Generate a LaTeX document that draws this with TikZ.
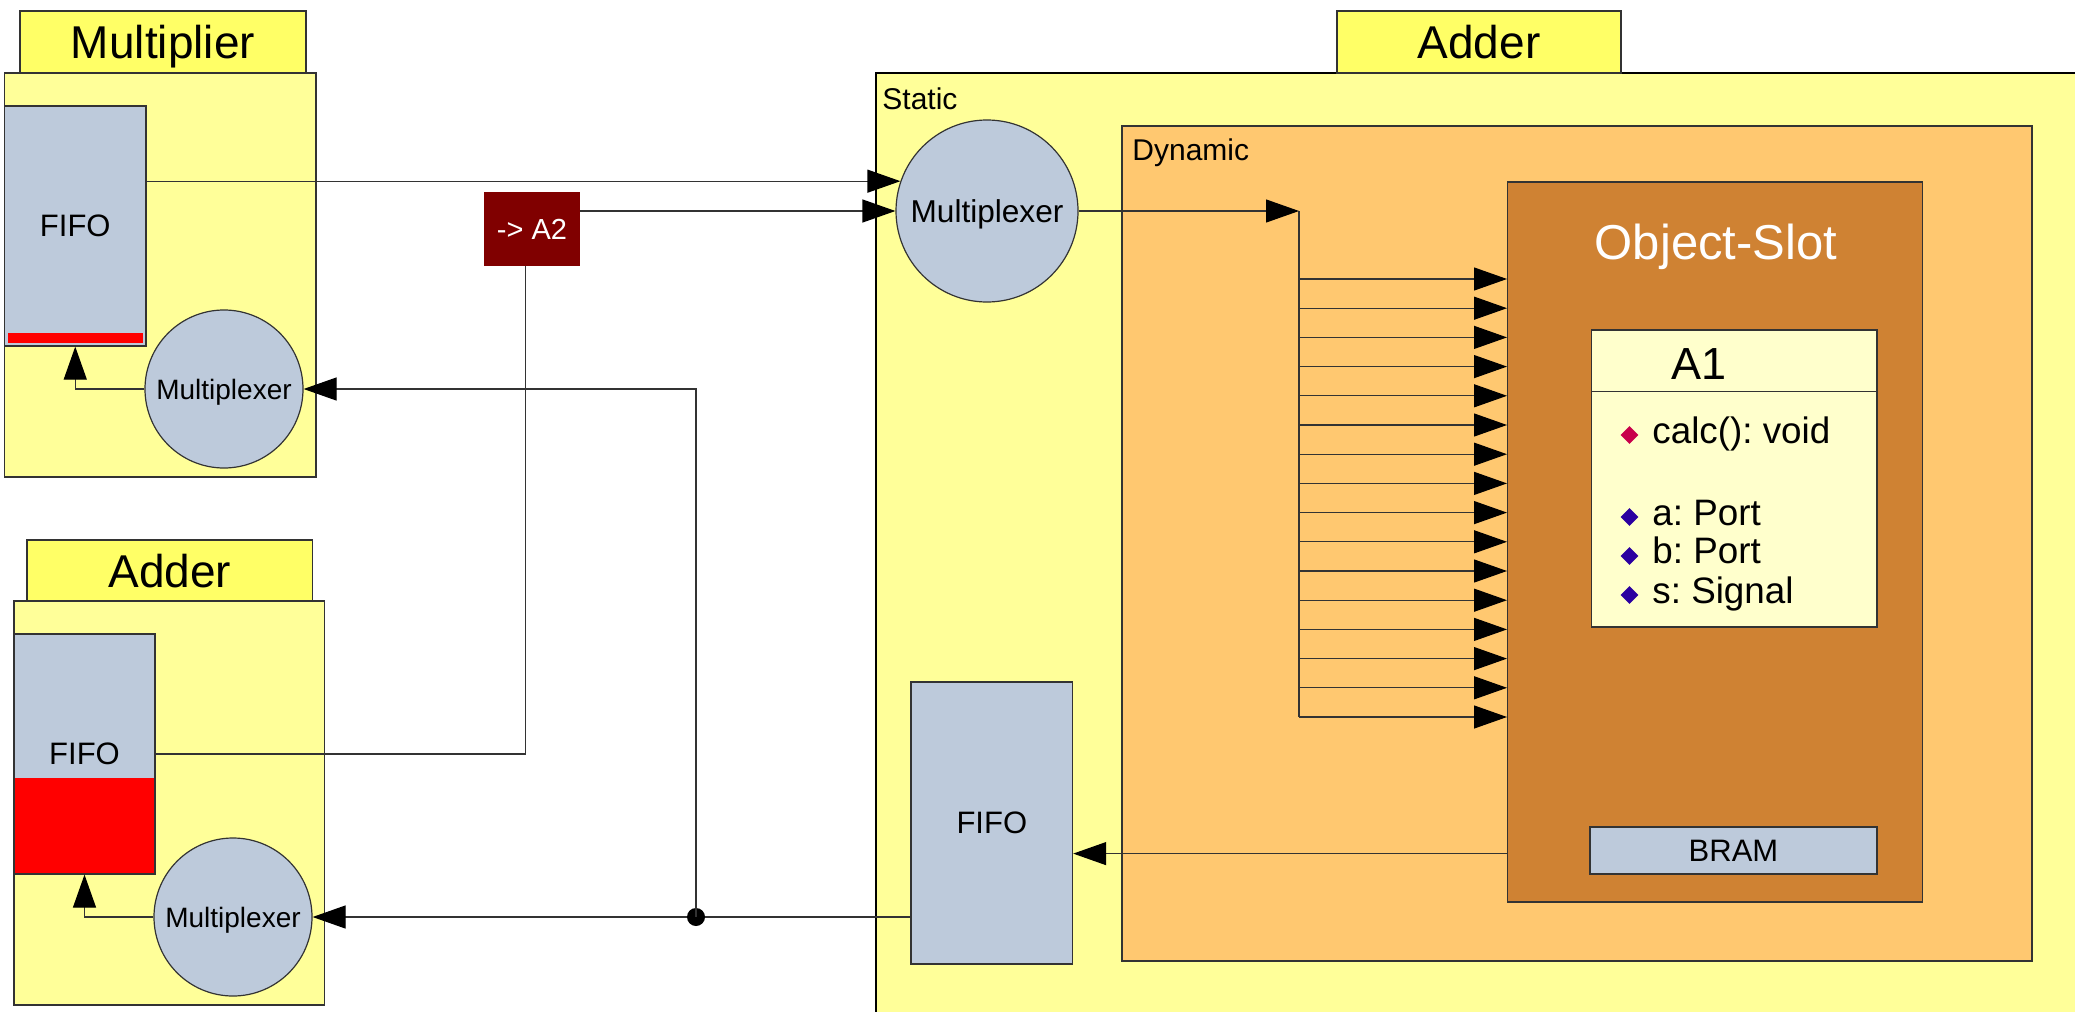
\documentclass[tikz,border=0pt]{standalone}
\usepackage{fontspec}
\setmainfont{Liberation Sans}
\frenchspacing
\usetikzlibrary{arrows.meta,shapes.geometric}
\definecolor{hwTitle}{HTML}{FFFF66}
\definecolor{hwBody}{HTML}{FFFF99}
\definecolor{hwDyn}{HTML}{FFC870}
\definecolor{hwSlot}{HTML}{CF8233}
\definecolor{hwBlue}{HTML}{BDCADB}
\definecolor{hwCream}{HTML}{FFFFCC}
\definecolor{hwRed}{HTML}{FF0000}
\definecolor{hwMaroon}{HTML}{800000}
\definecolor{hwCrimson}{HTML}{C8004B}
\definecolor{hwIndigo}{HTML}{2B00A0}
\definecolor{hwLine}{HTML}{333333}
\tikzset{
  hw box/.style={rectangle, draw=hwLine, line width=0.6pt, inner sep=0pt, text depth=0pt},
  hw title/.style={hw box, fill=hwTitle, font=\fontsize{23}{27}\selectfont},
  hw body/.style={hw box, fill=hwBody},
  hw fifo/.style={hw box, fill=hwBlue, font=\fontsize{15.5}{18}\selectfont},
  hw mux/.style={circle, draw=hwLine, line width=0.6pt, fill=hwBlue, inner sep=0pt, text depth=0pt},
  hw wire/.style={draw=hwLine, line width=0.6pt},
  hw arrow/.style={hw wire, -{Triangle[length=16.5pt,width=11.5pt,color=black]}},
  hw label/.style={inner sep=0pt, anchor=base west, font=\fontsize{15}{18}\selectfont},
  hw member/.style={inner sep=0pt, anchor=base west, font=\fontsize{18.4}{22}\selectfont},
  hw bullet/.style={diamond, inner sep=0pt, minimum size=9pt},
}

\begin{document}
\begin{tikzpicture}[x=0.5pt, y=-0.5pt]
  \useasboundingbox (0,0) rectangle (2075,1011);
  \clip (0,0) rectangle (2075,1011);
  % Multiplier component (top left)
  \node[hw title, minimum width=143pt, minimum height=31pt] (mulTitle) at (163,42) {Multiplier};
  \node[hw body, minimum width=155.75pt, minimum height=202pt] (mulBody) at (160.25,275) {};
  \node[hw fifo, minimum width=70.75pt, minimum height=120pt] (mulFifo) at (75.25,226) {FIFO};
  \fill[hwRed] (7.6,333) rectangle (143,343);
  \node[hw mux, minimum size=79pt, font=\fontsize{14}{17}\selectfont] (mulMux) at (224,389) {Multiplexer};
  % Adder component (bottom left), FIFO half full
  \node[hw title, minimum width=142.75pt, minimum height=30.5pt] (addTitle) at (169.75,570.5) {Adder};
  \node[hw body, minimum width=155.25pt, minimum height=202pt] (addBody) at (169.25,803) {};
  \node[hw fifo, minimum width=70.5pt, minimum height=120pt,
        path picture={\fill[hwRed] (path picture bounding box.south west)
          rectangle ([yshift=48pt]path picture bounding box.south east);}] (addFifo) at (84.5,754) {FIFO};
  \node[hw mux, minimum size=79pt, font=\fontsize{14}{17}\selectfont] (addMux) at (233,917) {Multiplexer};
  % Routing tag
  \node[hw box, draw=hwMaroon, fill=hwMaroon, text=white, minimum width=47pt, minimum height=36pt,
        font=\fontsize{14.5}{17}\selectfont] (tag) at (532,229) {-> A2};
  % Adder with static and dynamic part (right)
  \filldraw[fill=hwBody, draw=black, line width=0.6pt] (876,73) rectangle (2100,1030);
  \node[hw label] (staticLbl) at (882,110) {Static};
  \node[hw title, minimum width=142pt, minimum height=31pt] (bigTitle) at (1479,42) {Adder};
  \filldraw[fill=hwDyn, draw=hwLine, line width=0.6pt] (1122,126) rectangle (2032,961);
  \node[hw label] (dynLbl) at (1132,160) {Dynamic};
  \node[hw mux, minimum size=91pt, font=\fontsize{15.8}{19}\selectfont] (bigMux) at (987,211) {Multiplexer};
  \node[hw fifo, minimum width=80.8pt, minimum height=141pt] (sFifo) at (991.8,823) {FIFO};
  % Object slot with class A1
  \node[hw box, fill=hwSlot, minimum width=207.5pt, minimum height=360pt] (slot) at (1715.1,542) {};
  \node[inner sep=0pt, anchor=base, text=white, font=\fontsize{24.5}{29}\selectfont] (slotLbl) at (1716,259) {Object-Slot};
  \node[hw box, fill=hwCream, minimum width=142.7pt, minimum height=148.5pt] (cls) at (1734.3,478.5) {};
  \draw[hw wire] ([yshift=-31pt]cls.north west) -- ([yshift=-31pt]cls.north east);
  \node[inner sep=0pt, anchor=base, font=\fontsize{22.5}{27}\selectfont] (clsName) at (1699,379) {A1};
  \node[hw bullet, fill=hwCrimson] (dotCalc) at (1629.5,435) {};
  \node[hw member] (txtCalc) at (1652,443) {calc(): void};
  \node[hw bullet, fill=hwIndigo] (dotA) at (1629.5,517) {};
  \node[hw member] (txtA) at (1652,525) {a: Port};
  \node[hw bullet, fill=hwIndigo] (dotB) at (1629.5,556) {};
  \node[hw member] (txtB) at (1652,563) {b: Port};
  \node[hw bullet, fill=hwIndigo] (dotS) at (1629.5,595) {};
  \node[hw member] (txtS) at (1652,603) {s: Signal};
  \node[hw box, fill=hwBlue, minimum width=143.5pt, minimum height=23.5pt,
        font=\fontsize{15.5}{18}\selectfont] (bram) at (1733.5,850.5) {BRAM};
  % Connectors
  \draw[hw arrow] (mulFifo.east |- bigMux.161) -- (bigMux.161);
  \draw[hw arrow] (tag.east |- bigMux.west) -- (bigMux.west);
  \coordinate (fan) at (1299,211);
  \draw[hw arrow] (bigMux.east) -- (fan);
  \draw[hw wire] (fan) -- ++(0,506);
  \foreach \i in {0,...,15} {
    \path (fan) ++(0,{68+\i*29.2}) coordinate (tap);
    \draw[hw arrow] (tap) -- (tap -| slot.west);
  }
  \coordinate (slotOut) at ([yshift=24.5pt]slot.south west);
  \draw[hw arrow] (slotOut) -- (slotOut -| sFifo.east);
  \coordinate (junc) at (696,917);
  \draw[hw arrow] (sFifo.west |- addMux.east) -- (addMux.east);
  \fill[black] (junc) circle (4.5pt);
  \draw[hw arrow] (junc) |- (mulMux.east);
  \draw[hw arrow] (addMux.west) -| (addFifo.south);
  \draw[hw arrow] (mulMux.west) -| (mulFifo.south);
  \draw[hw wire] (addFifo.east) -| ([xshift=-3.25pt]tag.south);
\end{tikzpicture}
\end{document}
